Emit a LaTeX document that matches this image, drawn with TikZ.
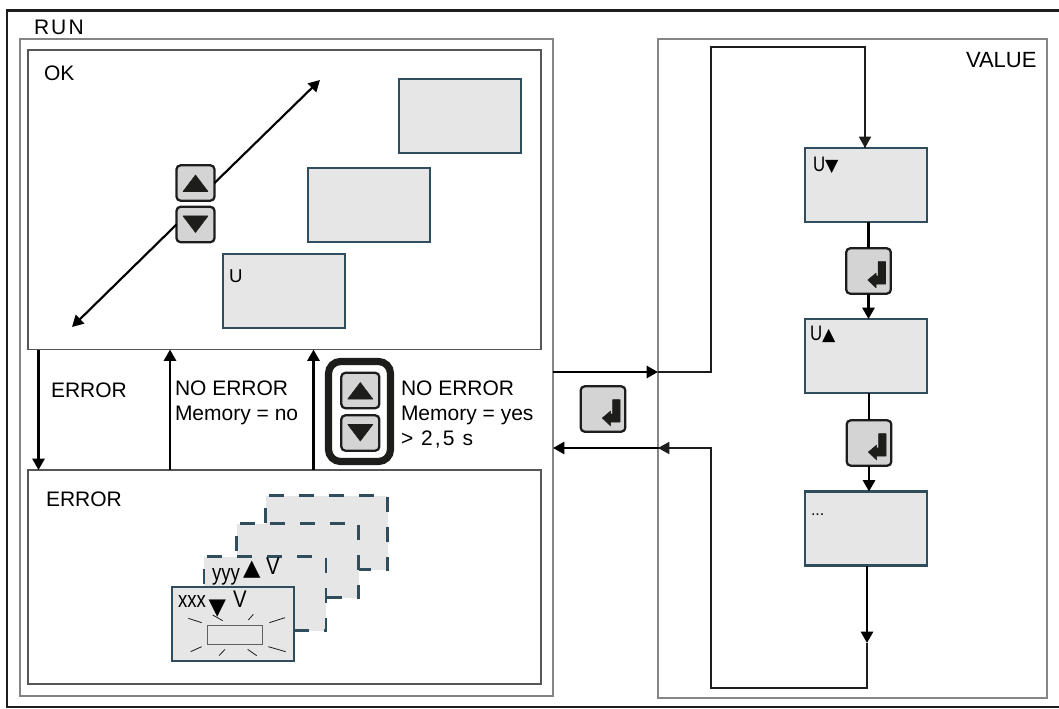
\documentclass[tikz,border=0pt]{standalone}
\usepackage{fontspec}
\setmainfont{Liberation Sans}
\newfontfamily\spaced[LetterSpace=10]{Liberation Sans}
\newfontfamily\djv{DejaVu Sans}
\usetikzlibrary{arrows.meta}
\definecolor{disp}{HTML}{2F4D5C}
\definecolor{dispfill}{HTML}{E6E6E6}
\definecolor{btnfill}{HTML}{D4D4D4}
\definecolor{ink}{HTML}{1D1D1B}
\definecolor{frame}{HTML}{858585}
\tikzset{
  x=0.75pt,y=-0.75pt,
  box/.style={draw,inner sep=0pt,outer sep=0pt},
  dispbox/.style={draw=disp,fill=dispfill,line width=1.9pt,inner sep=0pt,outer sep=0pt,minimum width=91.5pt,minimum height=55.5pt},
  dashbox/.style={dispbox,dash pattern=on 11.25pt off 11.25pt},
  btn/.style={draw=ink,fill=btnfill,line width=1.7pt,rounded corners=3pt,inner sep=0pt,outer sep=0pt,minimum width=28.5pt,minimum height=26.5pt},
  enterbtn/.style={btn,minimum width=33.5pt,minimum height=34pt},
  icon/.style={fill=ink,draw=ink,line width=0.4pt,line join=round},
  lab/.style={anchor=base west,inner sep=0pt,outer sep=0pt,font=\fontsize{15.75}{18}\selectfont},
  small/.style={anchor=base west,inner sep=0pt,outer sep=0pt,font=\fontsize{14}{16}\selectfont},
  headtip/.style={-{Triangle[length=8.5pt,width=9pt]}},
  diagtip/.style={-{Triangle[length=8.5pt,width=9pt]}},
  heavy/.style={line width=2pt,draw=black},
  light/.style={line width=1.3pt,draw=ink},
  ray/.style={line width=0.6pt,draw=ink},
}
\newcommand\upbtn[3]{\node[btn] (#1) at (#2,#3) {};
  \path[icon,shift={(#1.center)}] (-12.5,8.5)--(12.5,8.5)--(0,-8)--cycle;}
\newcommand\dnbtn[3]{\node[btn] (#1) at (#2,#3) {};
  \path[icon,shift={(#1.center)}] (-12.5,-8.5)--(12.5,-8.5)--(0,8)--cycle;}
\newcommand\entbtn[3]{\node[enterbtn] (#1) at (#2,#3) {};
  \path[icon,shift={(#1.center)}] (17,-9.3)--(17,13)--(7.7,13)--(7.7,17)--(-0.7,9)--(7.7,2)--(7.7,5)--(9.7,5)--(9.7,-9.3)--cycle;}
\begin{document}
\begin{tikzpicture}
\useasboundingbox (0,0) rectangle (1059,709);
% frames
\coordinate (fa) at (1059,10.5);
\coordinate (fb) at (7,10.5);
\coordinate (fc) at (7,707);
\coordinate (fd) at (1059,707);
\draw[line width=1.6pt,draw=ink] (fa)--(fb)--(fc)--(fd);
\node[box,draw=frame,line width=1pt,minimum width=399.75pt,minimum height=492.75pt] (run) at (286.5,367.5) {};
\node[box,draw=frame,line width=1pt,minimum width=291.75pt,minimum height=494.25pt] (value) at (852.5,368.5) {};
\node[box,draw=ink!75,line width=0.85pt,minimum width=384.75pt,minimum height=224.6pt] (ok) at (284.5,199.75) {};
\node[box,draw=ink!75,line width=0.85pt,minimum width=384.75pt,minimum height=160.5pt] (err) at (284.5,577) {};
% labels
\node[lab,font=\fontsize{15.75}{18}\spaced] (lrun) at (34,35) {RUN};
\node[lab] (lok) at (44,81) {OK};
\node[lab,font=\fontsize{16.5}{18}\selectfont] (lval) at (966,68) {VALUE};
\node[lab] (lerr1) at (51,397) {ERROR};
\node[lab] (lne1) at (175,395) {NO ERROR};
\node[lab] (lme1) at (175,420) {Memory = no};
\node[lab] (lne2) at (401,395) {NO ERROR};
\node[lab] (lme2) at (401,420) {Memory = yes};
\node[lab,font=\fontsize{15.75}{18}\spaced] (lt) at (401,445.5) {> 2,5 s};
\node[lab] (lerr2) at (46,506) {ERROR};
% OK panel
\node[dispbox] (d3) at (460,116) {};
\node[dispbox] (d2) at (369,205) {};
\node[dispbox] (d1) at (284,291) {};
\node[small] (tu) at (229,282) {U};
\upbtn{bu}{195.5}{183}
\dnbtn{bd}{195.5}{224.5}
\coordinate (tne) at (320,80);
\coordinate (tsw) at (72,327);
\draw[heavy,line width=1.6pt,diagtip] (bu.east)--(tne);
\draw[heavy,line width=1.6pt,diagtip] (bd.west)--(tsw);
% run connectors
\coordinate (a1a) at (38.5,349.5);
\coordinate (a1b) at (38.5,470);
\coordinate (a2a) at (170,470);
\coordinate (a2b) at (170,349.5);
\coordinate (a3a) at (313.5,470);
\coordinate (a3b) at (313.5,349.5);
\draw[heavy,headtip] (a1a)--(a1b);
\draw[heavy,headtip] (a2a)--(a2b);
\draw[heavy,headtip] (a3a)--(a3b);
% big button group
\node[draw=ink,line width=5.4pt,rounded corners=9pt,inner sep=0pt,minimum width=46.5pt,minimum height=75pt] (grp) at (359.5,411.5) {};
\upbtn{gu}{360.3}{390.5}
\dnbtn{gd}{360.3}{433}
% error stack
\node[dashbox] (s4) at (326.5,532.5) {};
\node[dashbox] (s3) at (297.5,560.5) {};
\node[dashbox] (s2) at (265,593.5) {};
\node[dispbox] (s1) at (233,624) {};
\node[box,draw=ink!70,fill=dispfill,line width=0.75pt,minimum width=41.25pt,minimum height=14.25pt] (blink) at (234.5,634.5) {};
\foreach \i/\ax/\ay/\bx/\by in {a/115/835/155/848,b/188/825/218/842,c/295/840/310/823,d/358/848/405/833,e/122/935/155/920,f/207/947/225/928,g/293/928/320/947,h/355/920/407/935}{
  \coordinate (r\i a) at ({150+\ax/3},{340+\ay/3});
  \coordinate (r\i b) at ({150+\bx/3},{340+\by/3});
  \draw[ray] (r\i a)--(r\i b);
}
\node[lab,font=\fontsize{17}{18}\selectfont] (yy) at (212,580) {\scalebox{0.82}[1]{yyy}};
\node[lab,font=\fontsize{17}{18}\djv] (ytri) at (243,575) {▲};
\node[lab,font=\fontsize{18}{18}\selectfont] (yv) at (266,574) {\scalebox{0.85}[1]{V}};
\node[lab,font=\fontsize{17}{18}\selectfont] (xx) at (178,607) {\scalebox{0.82}[1]{xxx}};
\node[lab,font=\fontsize{17}{18}\djv] (xtri) at (208.5,614) {▼};
\node[lab,font=\fontsize{18}{18}\selectfont] (xv) at (233,607) {\scalebox{0.85}[1]{V}};
% value panel
\node[dispbox] (v1) at (866,185) {};
\node[dispbox] (v2) at (866,356) {};
\node[dispbox] (v3) at (866,528.5) {};
\node[lab] (tv1) at (813,172) {\scalebox{0.8}[1]{U}{\fontsize{13}{16}\djv ▼}};
\node[lab] (tv2) at (810,340) {\scalebox{0.8}[1]{U}{\fontsize{13}{16}\djv ▲}};
\node[small,font=\fontsize{12}{12}\selectfont] (tv3) at (811,515) {...};
\entbtn{e1}{868.5}{271}
\entbtn{e2}{869}{443}
\entbtn{e3}{603}{409}
\draw[heavy] (v1.south -| e1.center)--(e1.north);
\draw[heavy,headtip] (e1.south)--(v2.north -| e1.south);
\draw[heavy] (v2.south -| e2.center)--(e2.north);
\draw[heavy,headtip] (e2.south)--(v3.north -| e2.south);
% loops
\coordinate (p1) at (658,372);
\coordinate (p2) at (711,372);
\coordinate (p3) at (711,47);
\coordinate (p4) at (865,47);
\coordinate (p5) at (865,148);
\coordinate (q1) at (867,566);
\coordinate (q2) at (867,643);
\coordinate (q3) at (867,688);
\coordinate (q4) at (711,688);
\coordinate (q5) at (711,448);
\coordinate (q6) at (658,448);
\coordinate (q7) at (553,448);
\coordinate (q8) at (553,372);
\draw[light] (p1)--(p2)--(p3)--(p4)--(p5);
\draw[light,headtip] (p4)--(p5);
\draw[heavy,headtip] (q8)--(p1);
\draw[heavy,headtip] (q1)--(q2);
\draw[light] (q2)--(q3)--(q4)--(q5)--(q6);
\draw[light,headtip] (q5)--(q6);
\draw[heavy,headtip] (q6)--(q7);
\end{tikzpicture}
\end{document}
